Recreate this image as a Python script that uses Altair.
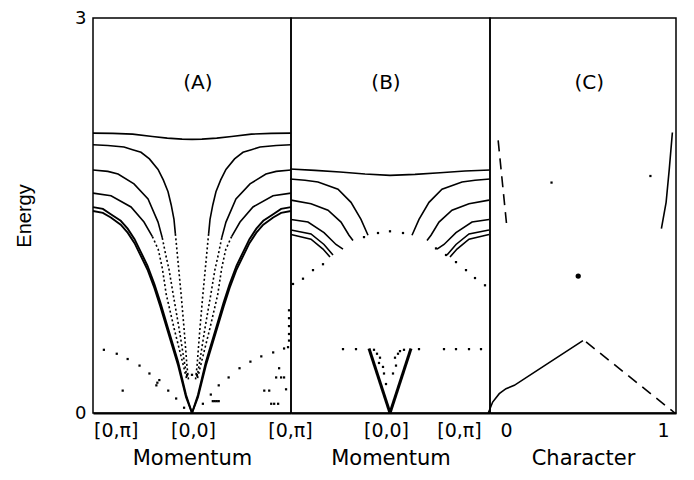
import altair as alt
import pandas as pd

# ---------------- values ----------------
# Momentum coordinate q: [0,pi] = -1, [0,0] = 0, [0,pi] = +1 (left halves read; panels are mirror-symmetric)
Y_TICKS = [0, 3]

# Panel (A)
A1_q = [-1.0, -0.8, -0.6, -0.4, -0.25, -0.1, 0.0]
A1_E = [2.126, 2.124, 2.118, 2.100, 2.088, 2.080, 2.078]
A2s_q = [-1.0, -0.85, -0.687, -0.6, -0.515, -0.43, -0.343, -0.29, -0.242, -0.21, -0.182, -0.168]
A2s_E = [2.037, 2.032, 2.02, 2.00, 1.98, 1.93, 1.85, 1.77, 1.68, 1.58, 1.47, 1.36]
A2d_q = [-0.168, -0.16, -0.135, -0.11, -0.08, -0.05, -0.035]
A2d_E = [1.36, 1.30, 1.10, 0.90, 0.64, 0.35, 0.25]
A3s_q = [-1.0, -0.85, -0.747, -0.586, -0.444, -0.343, -0.30]
A3s_E = [1.845, 1.835, 1.815, 1.74, 1.625, 1.45, 1.33]
A3d_q = [-0.30, -0.265, -0.232, -0.19, -0.13, -0.08, -0.05]
A3d_E = [1.33, 1.20, 1.09, 0.90, 0.64, 0.40, 0.27]
A4s_q = [-1.0, -0.818, -0.616, -0.485, -0.40]
A4s_E = [1.67, 1.65, 1.565, 1.45, 1.34]
A4d_q = [-0.40, -0.34, -0.30, -0.26, -0.18, -0.10, -0.055]
A4d_E = [1.34, 1.24, 1.10, 0.90, 0.64, 0.40, 0.26]
A5_q = [-1.0, -0.9, -0.82, -0.72, -0.65, -0.58, -0.515, -0.45, -0.38, -0.32, -0.24, -0.14, -0.06, 0.0]
A5_E = [1.564, 1.55, 1.51, 1.46, 1.40, 1.32, 1.22, 1.12, 0.98, 0.84, 0.638, 0.387, 0.137, 0.0]
A6_E = [1.534, 1.52, 1.485, 1.43, 1.37, 1.29, 1.19, 1.09, 0.95, 0.81, 0.61, 0.36, 0.12, 0.0]
A_dot_q = [-0.89, -0.76, -0.65, -0.53, -0.43, -0.35, -0.33, -0.36, -0.24, -0.16, -0.08, -0.70,
           0.11, 0.19, 0.27, 0.37, 0.48, 0.59, 0.70, 0.82, 0.93,
           0.21, 0.23, 0.25, 0.27, 0.73, 0.78, 0.80, 0.83, 0.87, 0.85, 0.90, 0.93, 0.88, 0.95,
           0.97, 0.98, 0.98, 0.98, 0.98, 0.98, -0.05, 0.0, 0.05]
A_dot_E = [0.48, 0.45, 0.41, 0.36, 0.30, 0.23, 0.25, 0.21, 0.17, 0.11, 0.04, 0.17,
           0.07, 0.14, 0.21, 0.27, 0.34, 0.39, 0.43, 0.46, 0.49,
           0.09, 0.09, 0.09, 0.09, 0.17, 0.17, 0.07, 0.07, 0.07, 0.27, 0.27, 0.27, 0.34, 0.18,
           0.50, 0.55, 0.60, 0.66, 0.72, 0.78, 0.29, 0.29, 0.29]

# Panel (B)
B1_q = [-1.0, -0.75, -0.5, -0.25, 0.0, 0.25, 0.5, 0.75, 1.0]
B1_E = [1.853, 1.843, 1.83, 1.815, 1.805, 1.812, 1.825, 1.838, 1.845]
B2_q = [-1.0, -0.85, -0.72, -0.52, -0.39, -0.29, -0.22]
B2_E = [1.777, 1.768, 1.754, 1.70, 1.60, 1.47, 1.35]
B3_q = [-0.99, -0.79, -0.62, -0.49, -0.41, -0.37]
B3_E = [1.617, 1.59, 1.54, 1.45, 1.35, 1.31]
B4_q = [-0.99, -0.82, -0.66, -0.54, -0.47]
B4_E = [1.47, 1.45, 1.37, 1.28, 1.245]
B5_q = [-0.99, -0.79, -0.66, -0.57]
B5_E = [1.39, 1.36, 1.28, 1.20]
B6_q = [-0.99, -0.79, -0.67, -0.60]
B6_E = [1.355, 1.32, 1.245, 1.185]
BV_q = [-0.21, 0.0]
BV_E = [0.49, 0.0]
B_dome_q = [-0.97, -0.87, -0.77, -0.67, -0.26, -0.12, 0.0, 0.13, 0.46, 0.56, 0.66, 0.76, 0.85, 0.95]
B_dome_E = [0.98, 1.02, 1.085, 1.13, 1.336, 1.367, 1.38, 1.367, 1.25, 1.20, 1.146, 1.085, 1.025, 0.97]
B_dot_q = [-0.47, -0.34, 0.29, 0.54, 0.66, 0.79, 0.91, -0.13, -0.10, -0.11, -0.07, -0.06, -0.04,
           0.05, 0.08, 0.06, 0.03, 0.10, -0.16, 0.14]
B_dot_E = [0.485, 0.485, 0.485, 0.485, 0.485, 0.485, 0.485, 0.45, 0.42, 0.38, 0.35, 0.30, 0.22,
           0.42, 0.45, 0.36, 0.30, 0.47, 0.48, 0.48]

# Panel (C): character
C_top_dash_c = [-0.05, 0.006]
C_top_dash_E = [2.07, 1.405]
C_top_solid_c = [1.06, 1.04, 1.02, 0.99]
C_top_solid_E = [2.13, 1.85, 1.60, 1.40]
C_low_solid_c = [-0.113, -0.085, -0.043, 0.0, 0.053, 0.265, 0.49]
C_low_solid_E = [0.0, 0.083, 0.147, 0.185, 0.21, 0.375, 0.55]
C_low_dash_c = [0.51, 1.076]
C_low_dash_E = [0.54, 0.0]
C_dot_c = [0.46]
C_dot_E = [1.04]
C_mark_c = [0.29, 0.92]
C_mark_E = [1.75, 1.80]

A_TICKS = [-0.77, 0.01, 0.99]
A_TICK_TEXT = ["[0,π]", "[0,0]", "[0,π]"]
B_TICKS = [-0.04, 0.69]
B_TICK_TEXT = ["[0,0]", "[0,π]"]
C_TICKS = [0, 1]
C_TICK_TEXT = ["0", "1"]
PANEL_LABELS = ["(A)", "(B)", "(C)"]
PANEL_LABEL_X = [0.06, -0.04, 0.53]
PANEL_LABEL_E = 2.51


# ---------------- helpers ----------------
def series(rows, sid, q, E, mirror=False):
    for i, (a, b) in enumerate(zip(q, E)):
        rows.append({"sid": sid + "L", "q": a, "E": b, "i": i})
    if mirror:
        for i, (a, b) in enumerate(zip(q, E)):
            rows.append({"sid": sid + "R", "q": -a, "E": b, "i": i})


def label_expr(vals, texts):
    expr = "''"
    for v, t in zip(reversed(vals), reversed(texts)):
        expr = f"abs(datum.value - ({v})) < 1e-6 ? '{t}' : " + expr
    return expr


def xaxis(vals, texts, title):
    return alt.Axis(values=vals, labelExpr=label_expr(vals, texts), title=title,
                    ticks=False, grid=False, domain=True, domainColor="black", domainWidth=2,
                    labelFlush=False, labelOverlap=False, labelFont="DejaVu Sans",
                    labelFontSize=19, labelPadding=8, labelColor="black",
                    titleFont="DejaVu Sans", titleFontSize=21, titleFontWeight="normal",
                    titlePadding=7, titleColor="black")


yscale = alt.Scale(domain=[0, 3], nice=False, zero=False)
Y_A = alt.Y("E:Q", scale=yscale,
            axis=alt.Axis(values=Y_TICKS, title="Energy", ticks=False, domain=False, grid=False,
                          labelFont="DejaVu Sans", labelFontSize=18, labelPadding=7,
                          labelColor="black", titleFont="Liberation Sans", titleFontSize=20,
                          titleFontWeight="normal", titlePadding=40, titleColor="black"))
Y_N = alt.Y("E:Q", scale=yscale, axis=None)


def panel(X, Y, solid, dotted, thick, thick_w, dashed, dots, big, label, width):
    layers = []
    if solid:
        layers.append(alt.Chart(pd.DataFrame(solid)).mark_line(color="black", strokeWidth=1.6)
                      .encode(x=X, y=Y, detail="sid:N", order="i:Q"))
    if dotted:
        layers.append(alt.Chart(pd.DataFrame(dotted)).mark_line(color="black", strokeWidth=1.6,
                                                               strokeDash=[2, 2.5])
                      .encode(x=X, y=Y, detail="sid:N", order="i:Q"))
    if thick:
        layers.append(alt.Chart(pd.DataFrame(thick)).mark_line(color="black", strokeWidth=thick_w)
                      .encode(x=X, y=Y, detail="sid:N", order="i:Q"))
    if dashed:
        layers.append(alt.Chart(pd.DataFrame(dashed)).mark_line(color="black", strokeWidth=1.6,
                                                               strokeDash=[11, 7])
                      .encode(x=X, y=Y, detail="sid:N", order="i:Q"))
    if dots:
        layers.append(alt.Chart(pd.DataFrame(dots)).mark_square(color="black", size=5, opacity=1)
                      .encode(x=X, y=Y))
    if big:
        layers.append(alt.Chart(pd.DataFrame(big)).mark_circle(color="black", size=28, opacity=1)
                      .encode(x=X, y=Y))
    layers.append(alt.Chart(pd.DataFrame([label])).mark_text(font="DejaVu Sans", fontSize=20,
                                                             color="black")
                  .encode(x=X, y=Y, text="t:N"))
    return alt.layer(*layers).properties(width=width, height=395)


# ---- Panel A ----
sA, dA, tA = [], [], []
series(sA, "A1", A1_q, A1_E, True)
series(sA, "A2", A2s_q, A2s_E, True)
series(sA, "A3", A3s_q, A3s_E, True)
series(sA, "A4", A4s_q, A4s_E, True)
series(tA, "A5", A5_q, A5_E, True)
series(tA, "A6", A5_q, A6_E, True)
series(dA, "A2d", A2d_q, A2d_E, True)
series(dA, "A3d", A3d_q, A3d_E, True)
series(dA, "A4d", A4d_q, A4d_E, True)
ptA = [{"q": a, "E": b} for a, b in zip(A_dot_q, A_dot_E)]
XA = alt.X("q:Q", scale=alt.Scale(domain=[-1, 1], nice=False, zero=False),
           axis=xaxis(A_TICKS, A_TICK_TEXT, "Momentum"))
chartA = panel(XA, Y_A, sA, dA, tA, 1.9, None, ptA, None,
               {"q": PANEL_LABEL_X[0], "E": PANEL_LABEL_E, "t": PANEL_LABELS[0]}, 198)

# ---- Panel B ----
sB, tB = [], []
series(sB, "B1", B1_q, B1_E, False)
for sid, q, E in [("B2", B2_q, B2_E), ("B3", B3_q, B3_E), ("B4", B4_q, B4_E),
                  ("B5", B5_q, B5_E), ("B6", B6_q, B6_E)]:
    series(sB, sid, q, E, True)
series(tB, "BV", BV_q, BV_E, True)
ptB = [{"q": a, "E": b} for a, b in zip(B_dome_q + B_dot_q, B_dome_E + B_dot_E)]
XB = alt.X("q:Q", scale=alt.Scale(domain=[-0.99, 1.0], nice=False, zero=False),
           axis=xaxis(B_TICKS, B_TICK_TEXT, "Momentum"))
chartB = panel(XB, Y_N, sB, None, tB, 3, None, ptB, None,
               {"q": PANEL_LABEL_X[1], "E": PANEL_LABEL_E, "t": PANEL_LABELS[1]}, 199)

# ---- Panel C ----
sC, dC = [], []
series(sC, "C1", C_top_solid_c, C_top_solid_E)
series(sC, "C2", C_low_solid_c, C_low_solid_E)
series(dC, "C3", C_top_dash_c, C_top_dash_E)
series(dC, "C4", C_low_dash_c, C_low_dash_E)
ptC = [{"q": a, "E": b} for a, b in zip(C_mark_c, C_mark_E)]
bigC = [{"q": a, "E": b} for a, b in zip(C_dot_c, C_dot_E)]
XC = alt.X("q:Q", scale=alt.Scale(domain=[-0.102, 1.083], nice=False, zero=False),
           axis=xaxis(C_TICKS, C_TICK_TEXT, "Character"))
chartC = panel(XC, Y_N, sC, None, None, 2, dC, ptC, bigC,
               {"q": PANEL_LABEL_X[2], "E": PANEL_LABEL_E, "t": PANEL_LABELS[2]}, 186)

chart = (alt.hconcat(chartA, chartB, chartC, spacing=0, bounds="flush")
         .properties(padding={"left": 5, "top": 0, "right": 5, "bottom": 0}, background="white")
         .configure_view(stroke="black", strokeWidth=1.5))

chart.save("out.html", embed_options={"renderer": "svg", "actions": False})
